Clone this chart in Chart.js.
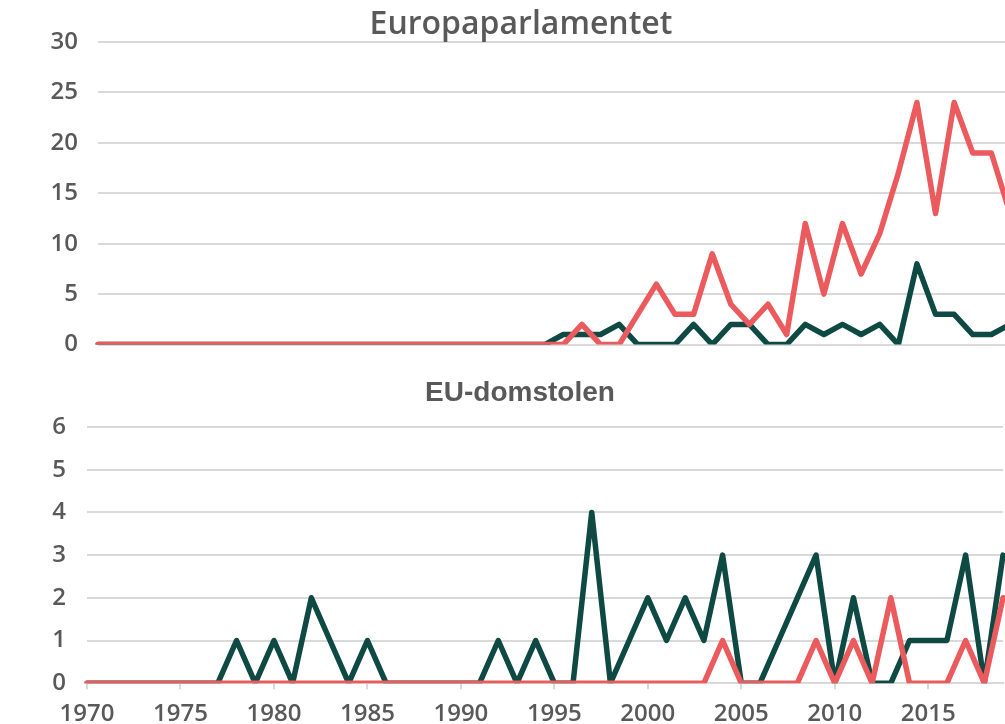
<!DOCTYPE html>
<html>
<head>
<meta charset="utf-8">
<script src="https://cdn.jsdelivr.net/npm/chart.js@4"></script>
<style>
  body { margin: 0; background: #fff; overflow: hidden; width: 1005px; height: 724px; position: relative; }
  #top { position: absolute; left: 0; top: 0; }
  #bottom { position: absolute; left: 0; top: 360px; }
</style>
</head>
<body>
<canvas id="top" width="1042" height="379"></canvas>
<canvas id="bottom" width="1040" height="380"></canvas>
<script>
// Jahre 1970-2019
const years = [];
for (let y = 1970; y <= 2019; y++) years.push(String(y));

// Europaparlamentet
const epGruen = [0,0,0,0,0, 0,0,0,0,0, 0,0,0,0,0, 0,0,0,0,0, 0,0,0,0,0,
  1,1,1,2,0, 0,0,2,0,2, 2,0,0,2,1, 2,1,2,0,8, 3,3,1,1,2];
const epRot = [0,0,0,0,0, 0,0,0,0,0, 0,0,0,0,0, 0,0,0,0,0, 0,0,0,0,0,
  0,2,0,0,3, 6,3,3,9,4, 2,4,1,12,5, 12,7,11,17,24, 13,24,19,19,13];

// EU-domstolen
const domGruen = [0,0,0,0,0, 0,0,0,1,0, 1,0,2,1,0, 1,0,0,0,0, 0,0,1,0,1,
  0,0,4,0,1, 2,1,2,1,3, 0,0,1,2,3, 0,2,0,0,1, 1,1,3,0,3];
const domRot = [0,0,0,0,0, 0,0,0,0,0, 0,0,0,0,0, 0,0,0,0,0, 0,0,0,0,0,
  0,0,0,0,0, 0,0,0,0,1, 0,0,0,0,1, 0,1,0,2,0, 0,0,1,0,2];

const rot = '#EB5A5D';
const gruen = '#0E4A43';
const grau = '#595959';
const gitter = '#D9D9D9';
const tickFont = { family: 'Open Sans', weight: '600', size: 24 };

function linie(data, farbe) {
  return {
    data: data,
    borderColor: farbe,
    borderWidth: 5.5,
    pointRadius: 0,
    borderJoinStyle: 'round',
    borderCapStyle: 'round',
    tension: 0
  };
}

// oberer Chart
new Chart(document.getElementById('top'), {
  type: 'line',
  data: {
    labels: years,
    datasets: [linie(epRot, rot), linie(epGruen, gruen)]
  },
  options: {
    responsive: false,
    animation: false,
    layout: { padding: { top: 0, right: 32, bottom: 0, left: 32 } },
    plugins: {
      legend: { display: false },
      tooltip: { enabled: false },
      title: {
        display: true,
        text: 'Europaparlamentet',
        color: grau,
        font: { family: 'Open Sans', weight: '600', size: 32, lineHeight: 1 },
        padding: { top: 8.5, bottom: 1.5 }
      }
    },
    scales: {
      x: { display: false },
      y: {
        min: 0, max: 30,
        ticks: { stepSize: 5, color: grau, font: tickFont, padding: 20 },
        grid: { color: gitter, lineWidth: 2, drawTicks: false },
        border: { display: false },
        afterFit: s => { s.width = 66; }
      }
    }
  }
});

// unterer Chart
new Chart(document.getElementById('bottom'), {
  type: 'line',
  data: {
    labels: years,
    datasets: [linie(domRot, rot), linie(domGruen, gruen)]
  },
  options: {
    responsive: false,
    animation: false,
    layout: { padding: { top: 12, right: 37, bottom: 0, left: 37 } },
    plugins: {
      legend: { display: false },
      tooltip: { enabled: false },
      title: {
        display: true,
        text: 'EU-domstolen',
        color: grau,
        font: { family: 'Liberation Sans', weight: 'bold', size: 28 },
        padding: { top: 4.9, bottom: 16.5 }
      }
    },
    scales: {
      x: {
        ticks: {
          autoSkip: false, maxRotation: 0, color: grau, font: tickFont, padding: 11,
          callback: (v, i) => (i % 5 === 0 ? years[i] : '')
        },
        grid: {
          drawOnChartArea: false, tickLength: 6, lineWidth: 2,
          color: c => (c.index % 5 === 0 ? gitter : 'rgba(0,0,0,0)')
        },
        border: { color: gitter, width: 2 }
      },
      y: {
        min: 0, max: 6,
        ticks: { stepSize: 1, color: grau, font: tickFont, padding: 21 },
        grid: { color: gitter, lineWidth: 2, drawTicks: false },
        border: { display: false },
        afterFit: s => { s.width = 50; }
      }
    }
  }
});
</script>
</body>
</html>
